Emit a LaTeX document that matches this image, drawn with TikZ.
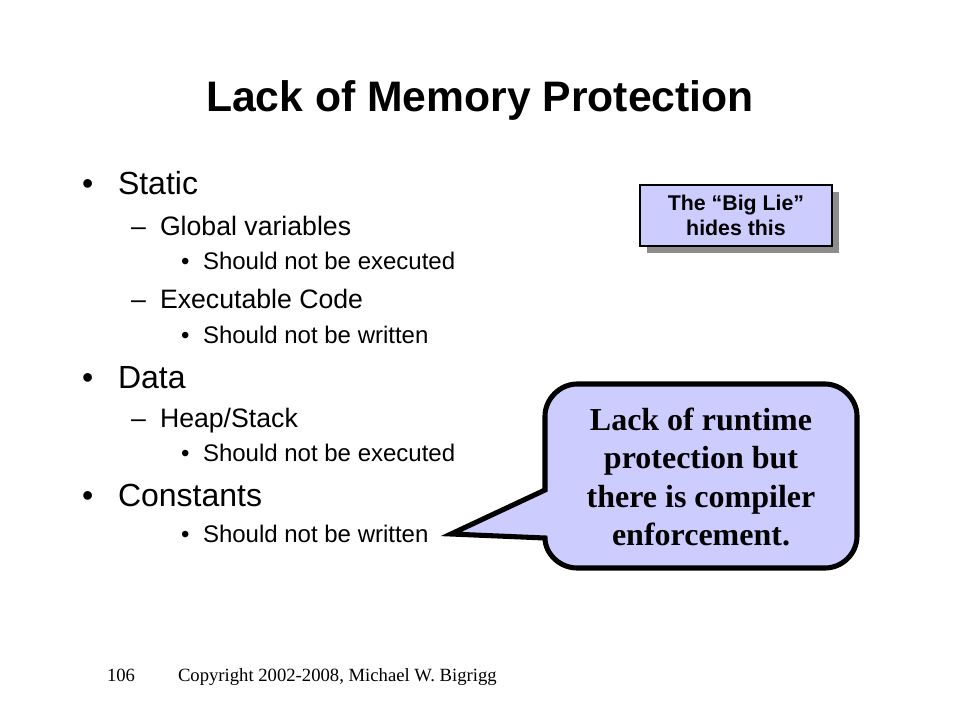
\documentclass[tikz,border=0pt]{standalone}
\usepackage{fontspec}
\setmainfont{Liberation Sans}
\newfontfamily\timesfont{Liberation Serif}
\definecolor{lav}{HTML}{CCCCFF}
\definecolor{shadowgray}{HTML}{8C8C8C}
\begin{document}
\begin{tikzpicture}[x=0.75pt,y=-0.75pt,
  txt/.style={anchor=base west,inner sep=0pt,outer sep=0pt},
  lone/.style={txt,font=\fontsize{24}{28}\selectfont},
  ltwo/.style={txt,font=\fontsize{20}{24}\selectfont},
  lthree/.style={txt,font=\fontsize{18}{22}\selectfont},
  foot/.style={txt,font=\timesfont\fontsize{14}{16}\selectfont}]
\useasboundingbox[fill=white] (0,0) rectangle (960,720);

% title
\node[anchor=base,inner sep=0pt,font=\bfseries\fontsize{32}{38}\selectfont] (title) at (480,112) {Lack of Memory Protection};

% bullets
\node[lone] (b1) at (82,195) {•};
\node[lone] (t1) at (118,195) {Static};
\node[ltwo] (d1) at (131,236) {–};
\node[ltwo] (t2) at (160,236) {Global variables};
\node[lthree] (b3) at (181,270) {•};
\node[lthree] (t3) at (203,270) {Should not be executed};
\node[ltwo] (d4) at (131,309) {–};
\node[ltwo] (t4) at (160,309) {Executable Code};
\node[lthree] (b5) at (181,343) {•};
\node[lthree] (t5) at (203,343) {Should not be written};
\node[lone] (b6) at (82,388) {•};
\node[lone] (t6) at (118,388) {Data};
\node[ltwo] (d7) at (131,427) {–};
\node[ltwo] (t7) at (160,427) {Heap/Stack};
\node[lthree] (b8) at (181,461) {•};
\node[lthree] (t8) at (203,461) {Should not be executed};
\node[lone] (b9) at (82,506) {•};
\node[lone] (t9) at (118,506) {Constants};
\node[lthree] (b10) at (181,542) {•};
\node[lthree] (t10) at (203,542) {Should not be written};

% Big Lie box with shadow
\fill[shadowgray] (647,192) rectangle (839,253);
\node[draw=black,line width=0.9pt,fill=lav,minimum width=192*0.75pt,minimum height=61*0.75pt,inner sep=0pt,
  align=center,font=\bfseries\fontsize{16}{18.75}\selectfont] (biglie) at (736,215.5) {The “Big Lie”\\hides this};

% callout
\draw[line width=3.8pt,line join=miter,miter limit=10,fill=lav]
  (545,490) -- (451,534) -- (545,538)
  .. controls (545,554) and (560,568) .. (577,568)
  -- (825,568)
  .. controls (842,568) and (857,554) .. (857,536)
  -- (857,416)
  .. controls (857,399) and (842,384) .. (825,384)
  -- (577,384)
  .. controls (560,384) and (545,399) .. (545,416)
  -- cycle;
\node[align=center,inner sep=0pt,font=\timesfont\bfseries\fontsize{24}{28.9}\selectfont] (callout) at (701,477) {Lack of runtime\\protection but\\there is compiler\\enforcement.};

% footer
\node[foot] (page) at (107,681) {106};
\node[foot] (copy) at (178,681) {Copyright 2002-2008, Michael W. Bigrigg};
\end{tikzpicture}
\end{document}
